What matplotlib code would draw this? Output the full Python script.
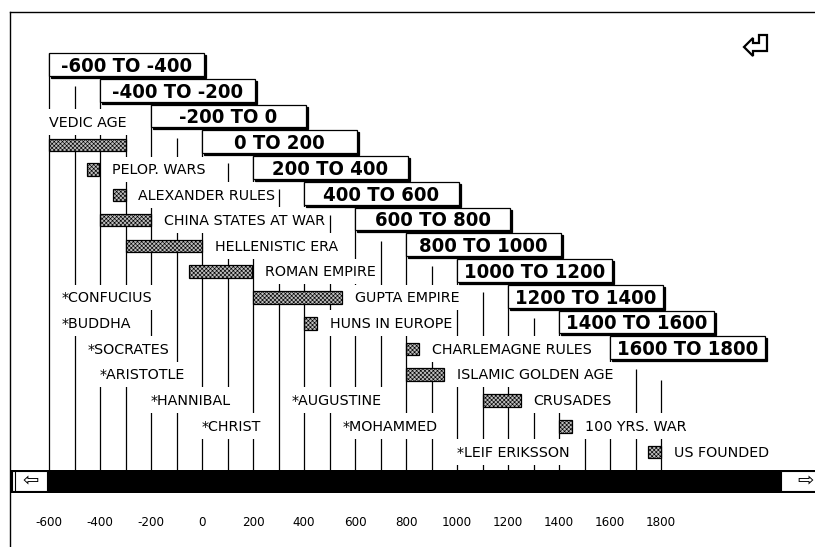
import matplotlib
matplotlib.use("Agg")
import matplotlib.pyplot as plt
from matplotlib.patches import Rectangle, Polygon
from matplotlib.lines import Line2D
from matplotlib.transforms import IdentityTransform

plt.rcParams["hatch.linewidth"] = 0.45

# ---------------- data ----------------
box_starts = [-600, -400, -200, 0, 200, 400, 600, 800, 1000, 1200, 1400, 1600]
box_labels = ["-600 TO -400", "-400 TO -200", "-200 TO 0", "0 TO 200", "200 TO 400",
              "400 TO 600", "600 TO 800", "800 TO 1000", "1000 TO 1200",
              "1200 TO 1400", "1400 TO 1600", "1600 TO 1800"]
box_rows = list(range(12))

bar_labels = ["VEDIC AGE", "PELOP. WARS", "ALEXANDER RULES", "CHINA STATES AT WAR",
              "HELLENISTIC ERA", "ROMAN EMPIRE", "GUPTA EMPIRE", "HUNS IN EUROPE",
              "CHARLEMAGNE RULES", "ISLAMIC GOLDEN AGE", "CRUSADES", "100 YRS. WAR",
              "US FOUNDED"]
bar_start = [-600, -450, -350, -400, -300, -50, 200, 400, 800, 800, 1100, 1400, 1750]
bar_end = [-300, -405, -300, -200, 0, 195, 550, 450, 850, 950, 1250, 1450, 1800]
bar_rows = [3.13, 4.08, 5.06, 6.04, 7.04, 8.04, 9.05, 10.05, 11.05, 12.04, 13.04, 14.05, 15.05]

star_labels = ["*CONFUCIUS", "*BUDDHA", "*SOCRATES", "*ARISTOTLE", "*HANNIBAL",
               "*CHRIST", "*AUGUSTINE", "*MOHAMMED", "*LEIF ERIKSSON"]
star_years = [-550, -550, -450, -400, -200, 0, 350, 550, 1000]
star_rows = [9.05, 10.05, 11.05, 12.04, 13.04, 14.05, 13.04, 14.05, 15.05]

tick_years = [-600, -400, -200, 0, 200, 400, 600, 800, 1000, 1200, 1400, 1600, 1800]
tick_labels = ["-600", "-400", "-200", "0", "200", "400", "600", "800", "1000",
               "1200", "1400", "1600", "1800"]
line_years = list(range(-600, 1801, 100))

# ---------------- layout helpers (pixel geometry) ----------------
W, H = 815, 547
PX_PER_YEAR = 0.255
PX_PER_ROW = 25.75


def px2x(px):
    return -600 + (px - 49) / PX_PER_YEAR


def px2r(py):
    return (py - 64.5) / PX_PER_ROW


XP = 1 / PX_PER_YEAR   # years per pixel
RP = 1 / PX_PER_ROW    # rows per pixel

fig = plt.figure(figsize=(W / 100, H / 100), dpi=100)
fig.patch.set_facecolor("white")
ax = fig.add_axes([0, 0, 1, 1])
ax.set_xlim(px2x(0), px2x(W))
ax.set_ylim(px2r(H), px2r(0))
ax.axis("off")

LBL_FONT = dict(family="DejaVu Sans", fontsize=10.3, color="black")
BOX_FONT = dict(family="DejaVu Sans", fontsize=14.5, fontweight="bold",
                fontstretch="condensed", color="black")

bar_top_r = px2r(470)

# ---------------- vertical century lines ----------------
for Y in line_years:
    idx = (Y + 600) // 100
    if Y == 1800:
        start = 12.25
    elif idx % 2 == 0:
        start = idx // 2 - 0.447
    else:
        start = (idx // 2) + 1 - 0.16
    ax.vlines(Y, start, bar_top_r, color="black", lw=0.9, zorder=1)

# ---------------- labels ----------------
texts = []
for i, lab in enumerate(bar_labels):
    if lab == "VEDIC AGE":
        x = bar_start[i]
        r = 2.23
    else:
        x = bar_end[i] + 13 * XP
        r = bar_rows[i]
    t = ax.text(x, r + 0.19, lab, ha="left", va="baseline", zorder=4, **LBL_FONT)
    texts.append((t, r))

for lab, yr, r in zip(star_labels, star_years, star_rows):
    t = ax.text(yr, r + 0.19, lab, ha="left", va="baseline", zorder=4, **LBL_FONT)
    texts.append((t, r))

# event bars (stippled)
ax.barh(bar_rows, [e - s for s, e in zip(bar_start, bar_end)], left=bar_start,
        height=0.485, color="#bdbdbd", edgecolor="black", hatch="xxxxxxxx",
        linewidth=0.9, zorder=3)

# range boxes with drop shadow
box_w = 608
box_h = 0.893
ax.barh([r + 2 * RP for r in box_rows], box_w, left=[s + 2 * XP for s in box_starts],
        height=box_h, color="black", edgecolor="black", linewidth=0.9, zorder=5)
ax.barh(box_rows, box_w, left=box_starts, height=box_h, color="white",
        edgecolor="black", linewidth=0.9, zorder=5.1)
for s, r, lab in zip(box_starts, box_rows, box_labels):
    ax.text(s + box_w / 2, r + 0.29, lab, ha="center", va="baseline", zorder=5.2, **BOX_FONT)

# bottom year labels
for yr, lab in zip(tick_years, tick_labels):
    ax.text(yr, px2r(522), lab, ha="center", va="center", family="DejaVu Sans",
            fontsize=9.5, fontstretch="condensed", color="black")

# opaque text fields behind labels (hide century lines)
fig.canvas.draw()
renderer = fig.canvas.get_renderer()
inv = ax.transData.inverted()
for t, r in texts:
    bb = t.get_window_extent(renderer)
    x0 = inv.transform((bb.x0, 0))[0]
    x1 = inv.transform((bb.x1, 0))[0]
    ax.add_patch(Rectangle((x0 - 6 * XP, r - 0.5), (x1 - x0) + 8 * XP, 1.0,
                           facecolor="white", edgecolor="none", zorder=2))

# ---------------- decorations in pixel space ----------------
I = IdentityTransform()


def P(px, py):
    return (px, H - py)


# frame
fig.add_artist(Line2D([10, 10], [0, H - 12], color="black", lw=1.0, transform=I))
fig.add_artist(Line2D([10, W], [H - 12, H - 12], color="black", lw=1.0, transform=I))

# black scroll bar
fig.add_artist(Rectangle(P(11, 493), W - 11, 23, facecolor="black", edgecolor="none",
                         transform=I, zorder=6))
fig.add_artist(Rectangle(P(12, 491), 35, 20, facecolor="white", edgecolor="black",
                         lw=0.8, transform=I, zorder=7))
fig.add_artist(Line2D([15, 15], [H - 491, H - 471], color="black", lw=0.8, transform=I, zorder=8))
fig.add_artist(Rectangle(P(781, 491), 40, 20, facecolor="white", edgecolor="black",
                         lw=0.8, transform=I, zorder=7))
fig.text(31 / W, 1 - 481 / H, "\u21e6", ha="center", va="center", fontsize=14,
         family="DejaVu Sans", zorder=9)
fig.text(806 / W, 1 - 481 / H, "\u21e8", ha="center", va="center", fontsize=14,
         family="DejaVu Sans", zorder=9)

# return icon (top right)
icon = [P(744, 47), P(753, 38), P(753, 43), P(759, 43), P(759, 35), P(767, 35),
        P(767, 51), P(753, 51), P(753, 56)]
fig.add_artist(Polygon(icon, closed=True, facecolor="white", edgecolor="black",
                       lw=1.6, transform=I, zorder=9))

fig.savefig("out.png", dpi=100, facecolor="white")
